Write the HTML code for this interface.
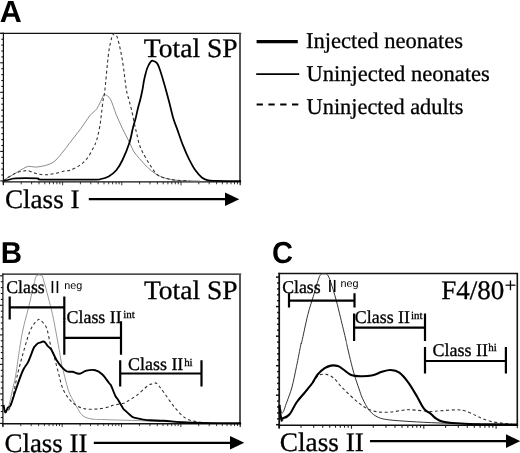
<!DOCTYPE html><html><head><meta charset="utf-8"><title>Figure</title><style>html,body{margin:0;padding:0;background:#fff}svg{display:block}</style></head><body>
<svg width="520" height="453" viewBox="0 0 520 453" text-rendering="geometricPrecision">
<rect width="520" height="453" fill="#fff"/>
<text transform="translate(-0.14,21.8)" font-family="Liberation Sans, sans-serif" font-weight="bold" font-size="30.5">A</text>
<text transform="translate(0.71,263) scale(0.978,1)" font-family="Liberation Sans, sans-serif" font-weight="bold" font-size="30.2">B</text>
<text transform="translate(271.96,263.4) scale(0.96,1)" font-family="Liberation Sans, sans-serif" font-weight="bold" font-size="30.3">C</text>
<line x1="0.2" y1="33.3" x2="3.4" y2="33.3" stroke="#111" stroke-width="1.1"/>
<line x1="1.3" y1="39.2" x2="3.4" y2="39.2" stroke="#111" stroke-width="1.1"/>
<line x1="1.3" y1="45.1" x2="3.4" y2="45.1" stroke="#111" stroke-width="1.1"/>
<line x1="1.3" y1="51.0" x2="3.4" y2="51.0" stroke="#111" stroke-width="1.1"/>
<line x1="1.3" y1="56.9" x2="3.4" y2="56.9" stroke="#111" stroke-width="1.1"/>
<line x1="0.2" y1="62.8" x2="3.4" y2="62.8" stroke="#111" stroke-width="1.1"/>
<line x1="1.3" y1="68.7" x2="3.4" y2="68.7" stroke="#111" stroke-width="1.1"/>
<line x1="1.3" y1="74.6" x2="3.4" y2="74.6" stroke="#111" stroke-width="1.1"/>
<line x1="1.3" y1="80.5" x2="3.4" y2="80.5" stroke="#111" stroke-width="1.1"/>
<line x1="1.3" y1="86.4" x2="3.4" y2="86.4" stroke="#111" stroke-width="1.1"/>
<line x1="0.2" y1="92.3" x2="3.4" y2="92.3" stroke="#111" stroke-width="1.1"/>
<line x1="1.3" y1="98.3" x2="3.4" y2="98.3" stroke="#111" stroke-width="1.1"/>
<line x1="1.3" y1="104.2" x2="3.4" y2="104.2" stroke="#111" stroke-width="1.1"/>
<line x1="1.3" y1="110.1" x2="3.4" y2="110.1" stroke="#111" stroke-width="1.1"/>
<line x1="1.3" y1="116.0" x2="3.4" y2="116.0" stroke="#111" stroke-width="1.1"/>
<line x1="0.2" y1="121.9" x2="3.4" y2="121.9" stroke="#111" stroke-width="1.1"/>
<line x1="1.3" y1="127.8" x2="3.4" y2="127.8" stroke="#111" stroke-width="1.1"/>
<line x1="1.3" y1="133.7" x2="3.4" y2="133.7" stroke="#111" stroke-width="1.1"/>
<line x1="1.3" y1="139.6" x2="3.4" y2="139.6" stroke="#111" stroke-width="1.1"/>
<line x1="1.3" y1="145.5" x2="3.4" y2="145.5" stroke="#111" stroke-width="1.1"/>
<line x1="0.2" y1="151.4" x2="3.4" y2="151.4" stroke="#111" stroke-width="1.1"/>
<line x1="1.3" y1="157.3" x2="3.4" y2="157.3" stroke="#111" stroke-width="1.1"/>
<line x1="1.3" y1="163.2" x2="3.4" y2="163.2" stroke="#111" stroke-width="1.1"/>
<line x1="1.3" y1="169.1" x2="3.4" y2="169.1" stroke="#111" stroke-width="1.1"/>
<line x1="1.3" y1="175.0" x2="3.4" y2="175.0" stroke="#111" stroke-width="1.1"/>
<line x1="0.2" y1="180.9" x2="3.4" y2="180.9" stroke="#111" stroke-width="1.1"/>
<line x1="3.4" y1="181.9" x2="3.4" y2="185.3" stroke="#222" stroke-width="0.9"/>
<line x1="21.2" y1="181.9" x2="21.2" y2="184.3" stroke="#222" stroke-width="0.9"/>
<line x1="31.6" y1="181.9" x2="31.6" y2="184.3" stroke="#222" stroke-width="0.9"/>
<line x1="39.0" y1="181.9" x2="39.0" y2="184.3" stroke="#222" stroke-width="0.9"/>
<line x1="44.8" y1="181.9" x2="44.8" y2="184.3" stroke="#222" stroke-width="0.9"/>
<line x1="49.5" y1="181.9" x2="49.5" y2="184.3" stroke="#222" stroke-width="0.9"/>
<line x1="53.4" y1="181.9" x2="53.4" y2="184.3" stroke="#222" stroke-width="0.9"/>
<line x1="56.9" y1="181.9" x2="56.9" y2="184.3" stroke="#222" stroke-width="0.9"/>
<line x1="59.9" y1="181.9" x2="59.9" y2="184.3" stroke="#222" stroke-width="0.9"/>
<line x1="62.6" y1="181.9" x2="62.6" y2="185.3" stroke="#222" stroke-width="0.9"/>
<line x1="80.4" y1="181.9" x2="80.4" y2="184.3" stroke="#222" stroke-width="0.9"/>
<line x1="90.8" y1="181.9" x2="90.8" y2="184.3" stroke="#222" stroke-width="0.9"/>
<line x1="98.2" y1="181.9" x2="98.2" y2="184.3" stroke="#222" stroke-width="0.9"/>
<line x1="104.0" y1="181.9" x2="104.0" y2="184.3" stroke="#222" stroke-width="0.9"/>
<line x1="108.7" y1="181.9" x2="108.7" y2="184.3" stroke="#222" stroke-width="0.9"/>
<line x1="112.6" y1="181.9" x2="112.6" y2="184.3" stroke="#222" stroke-width="0.9"/>
<line x1="116.1" y1="181.9" x2="116.1" y2="184.3" stroke="#222" stroke-width="0.9"/>
<line x1="119.1" y1="181.9" x2="119.1" y2="184.3" stroke="#222" stroke-width="0.9"/>
<line x1="121.8" y1="181.9" x2="121.8" y2="185.3" stroke="#222" stroke-width="0.9"/>
<line x1="139.6" y1="181.9" x2="139.6" y2="184.3" stroke="#222" stroke-width="0.9"/>
<line x1="150.0" y1="181.9" x2="150.0" y2="184.3" stroke="#222" stroke-width="0.9"/>
<line x1="157.4" y1="181.9" x2="157.4" y2="184.3" stroke="#222" stroke-width="0.9"/>
<line x1="163.2" y1="181.9" x2="163.2" y2="184.3" stroke="#222" stroke-width="0.9"/>
<line x1="167.9" y1="181.9" x2="167.9" y2="184.3" stroke="#222" stroke-width="0.9"/>
<line x1="171.8" y1="181.9" x2="171.8" y2="184.3" stroke="#222" stroke-width="0.9"/>
<line x1="175.3" y1="181.9" x2="175.3" y2="184.3" stroke="#222" stroke-width="0.9"/>
<line x1="178.3" y1="181.9" x2="178.3" y2="184.3" stroke="#222" stroke-width="0.9"/>
<line x1="181.0" y1="181.9" x2="181.0" y2="185.3" stroke="#222" stroke-width="0.9"/>
<line x1="198.8" y1="181.9" x2="198.8" y2="184.3" stroke="#222" stroke-width="0.9"/>
<line x1="209.2" y1="181.9" x2="209.2" y2="184.3" stroke="#222" stroke-width="0.9"/>
<line x1="216.6" y1="181.9" x2="216.6" y2="184.3" stroke="#222" stroke-width="0.9"/>
<line x1="222.4" y1="181.9" x2="222.4" y2="184.3" stroke="#222" stroke-width="0.9"/>
<line x1="227.1" y1="181.9" x2="227.1" y2="184.3" stroke="#222" stroke-width="0.9"/>
<line x1="231.0" y1="181.9" x2="231.0" y2="184.3" stroke="#222" stroke-width="0.9"/>
<line x1="234.5" y1="181.9" x2="234.5" y2="184.3" stroke="#222" stroke-width="0.9"/>
<line x1="237.5" y1="181.9" x2="237.5" y2="184.3" stroke="#222" stroke-width="0.9"/>
<line x1="240.2" y1="181.9" x2="240.2" y2="185.3" stroke="#222" stroke-width="0.9"/>
<line x1="240.2" y1="181.9" x2="240.2" y2="184.9" stroke="#222" stroke-width="0.9"/>
<line x1="0.2" y1="33.3" x2="241.2" y2="33.3" stroke="#111" stroke-width="1.2"/>
<line x1="2.4" y1="181.9" x2="241.2" y2="181.9" stroke="#111" stroke-width="1.3"/>
<line x1="3.4" y1="32.7" x2="3.4" y2="184.9" stroke="#111" stroke-width="1.2"/>
<line x1="240.00" y1="33.3" x2="240.00" y2="182.4" stroke="#555" stroke-width="2"/>
<path d="M3.5,181.0C4.0,180.6 4.2,180.0 6.2,178.7C8.2,177.4 12.6,175.0 15.4,173.3C18.2,171.6 21.0,169.8 23.2,168.6C25.4,167.4 26.6,166.6 28.6,166.3C30.7,166.1 32.8,167.2 35.5,167.1C38.2,167.0 41.7,166.5 44.8,165.6C47.9,164.7 51.2,163.8 54.0,161.7C56.8,159.6 59.2,156.3 61.8,153.2C64.4,150.1 66.3,147.3 69.5,143.2C72.7,139.1 77.4,133.2 80.8,128.6C84.2,124.0 87.3,118.8 90.0,115.5C92.7,112.2 94.8,111.8 97.0,108.5C99.2,105.2 102.1,98.0 103.3,95.6C104.5,93.2 104.0,94.1 104.3,93.9C104.6,93.7 104.3,93.7 105.3,94.6C106.3,95.5 108.7,95.9 110.5,99.3C112.3,102.7 114.3,109.8 116.3,114.7C118.3,119.6 120.3,124.0 122.5,128.6C124.7,133.2 127.6,138.6 129.5,142.5C131.4,146.4 132.3,149.1 134.0,151.8C135.7,154.5 137.2,156.0 139.5,158.6C141.8,161.2 145.0,165.0 147.7,167.5C150.3,170.0 152.8,172.0 155.4,173.7C158.0,175.4 160.6,176.5 163.2,177.5C165.8,178.5 168.1,179.0 170.9,179.5C173.7,180.0 175.2,180.3 180.0,180.6C184.8,180.8 196.7,180.9 200.0,181.0" fill="none" stroke="#8a8a8a" stroke-width="1"/>
<path d="M3.5,181.0C4.0,180.6 4.2,180.0 6.2,178.7C8.2,177.4 12.8,174.5 15.4,173.3C18.0,172.1 19.9,171.7 22.0,171.3C24.1,170.9 25.6,170.4 27.8,170.7C30.1,171.0 32.8,172.6 35.5,173.3C38.2,174.0 40.9,174.7 44.0,174.8C47.1,174.9 50.5,174.3 54.0,173.7C57.5,173.1 62.2,171.6 64.9,171.0C67.6,170.4 67.6,171.1 70.0,170.2C72.4,169.3 76.5,167.5 79.3,165.6C82.1,163.7 84.6,161.6 87.0,158.6C89.4,155.6 92.0,150.3 93.5,147.5C95.0,144.7 95.2,144.1 96.0,142.0C96.8,139.9 97.3,138.0 98.0,135.0C98.7,132.0 99.6,127.7 100.2,124.0C100.8,120.3 101.0,117.1 101.5,113.0C102.0,108.9 102.7,102.8 103.2,99.3C103.7,95.8 103.8,99.5 104.7,91.8C105.6,84.1 107.4,62.2 108.6,53.2C109.8,44.2 110.9,40.9 111.7,37.7C112.5,34.6 113.1,35.0 113.6,34.3C114.1,33.6 114.2,33.5 114.5,33.5C114.8,33.5 114.8,33.3 115.4,34.3C116.0,35.3 116.7,34.9 117.9,39.3C119.1,43.7 121.1,52.4 122.5,60.9C123.9,69.3 125.3,83.5 126.4,90.0C127.5,96.5 128.1,96.5 129.0,100.0C129.9,103.5 130.9,107.0 131.8,111.0C132.7,115.0 133.7,120.2 134.5,124.0C135.3,127.8 136.0,130.5 136.8,134.0C137.6,137.5 138.6,142.2 139.5,145.0C140.4,147.8 141.1,149.1 142.0,151.0C142.9,152.9 143.7,154.2 145.0,156.5C146.3,158.8 148.0,162.0 150.0,165.0C152.0,168.0 154.6,172.3 157.0,174.5C159.4,176.7 161.7,177.1 164.7,178.0C167.7,178.9 170.8,179.5 175.0,180.0C179.2,180.5 187.5,180.8 190.0,181.0" fill="none" stroke="#333" stroke-width="1.1" stroke-dasharray="3 2.6"/>
<path d="M3.5,181.0C4.2,180.8 6.0,180.4 8.0,180.0C10.0,179.6 10.6,178.7 15.4,178.4C20.2,178.1 32.4,178.2 37.0,178.4C41.6,178.6 33.8,179.4 43.2,179.6C52.6,179.7 83.6,179.6 93.2,179.6C102.8,179.5 98.3,179.5 100.9,179.0C103.5,178.5 106.0,177.9 108.6,176.4C111.2,174.9 114.0,172.9 116.3,170.2C118.6,167.5 120.3,164.6 122.5,160.0C124.7,155.4 127.8,147.8 129.5,142.5C131.2,137.2 131.8,132.5 132.8,128.5C133.8,124.5 134.7,121.9 135.6,118.5C136.5,115.1 137.2,111.2 138.0,108.0C138.8,104.8 139.5,102.7 140.3,99.5C141.1,96.3 142.0,92.1 142.6,89.0C143.2,85.9 143.4,83.6 143.9,81.0C144.4,78.4 145.1,75.5 145.7,73.2C146.3,70.9 146.8,68.9 147.7,67.0C148.5,65.1 149.9,62.6 150.8,61.6C151.7,60.6 152.1,60.5 153.1,60.8C154.1,61.0 155.8,61.6 157.0,63.1C158.2,64.6 158.7,66.3 160.0,70.0C161.3,73.7 163.1,80.1 164.7,85.5C166.2,90.9 167.9,97.1 169.3,102.5C170.7,107.9 171.9,113.6 173.2,118.0C174.5,122.4 175.4,124.2 177.1,128.9C178.8,133.6 181.1,140.8 183.2,145.9C185.2,151.1 187.3,155.7 189.4,159.8C191.5,163.9 193.5,167.7 195.6,170.6C197.7,173.5 199.7,175.9 201.8,177.5C203.9,179.1 205.8,179.7 208.0,180.3C210.2,180.9 209.5,180.8 215.0,180.9C220.5,181.0 236.7,181.1 241.0,181.1" fill="none" stroke="#000" stroke-width="1.75" stroke-linejoin="round"/>
<text transform="translate(143.80,57.20) scale(1.0327,1)" font-family="Liberation Serif, serif" font-size="26.7" stroke="#000" stroke-width="0.3">Total SP</text>
<text transform="translate(4.96,208.40) scale(1.0155,1)" font-family="Liberation Serif, serif" font-size="26.7" stroke="#000" stroke-width="0.3">Class I</text>
<line x1="88.8" y1="199.2" x2="229.3" y2="199.2" stroke="#000" stroke-width="2.2"/><polygon points="225.0,192.4 239.3,199.2 225.0,206.0" fill="#000"/>
<line x1="256.6" y1="41.7" x2="297.8" y2="41.7" stroke="#000" stroke-width="3.2"/>
<line x1="256.2" y1="74.2" x2="299.2" y2="74.2" stroke="#000" stroke-width="1.8"/>
<line x1="256.6" y1="104.4" x2="298.5" y2="104.4" stroke="#000" stroke-width="2" stroke-dasharray="6.3 5.5"/>
<text transform="translate(305.89,48.20) scale(1.0025,1)" font-family="Liberation Serif, serif" font-size="22.5" stroke="#000" stroke-width="0.3">Injected neonates</text>
<text transform="translate(306.61,80.90) scale(1.0000,1)" font-family="Liberation Serif, serif" font-size="22.5" stroke="#000" stroke-width="0.3">Uninjected neonates</text>
<text transform="translate(306.61,113.60) scale(0.9925,1)" font-family="Liberation Serif, serif" font-size="22.5" stroke="#000" stroke-width="0.3">Uninjected adults</text>
<line x1="-0.3" y1="275.8" x2="2.9" y2="275.8" stroke="#111" stroke-width="1.1"/>
<line x1="0.8" y1="281.7" x2="2.9" y2="281.7" stroke="#111" stroke-width="1.1"/>
<line x1="0.8" y1="287.6" x2="2.9" y2="287.6" stroke="#111" stroke-width="1.1"/>
<line x1="0.8" y1="293.5" x2="2.9" y2="293.5" stroke="#111" stroke-width="1.1"/>
<line x1="0.8" y1="299.4" x2="2.9" y2="299.4" stroke="#111" stroke-width="1.1"/>
<line x1="-0.3" y1="305.3" x2="2.9" y2="305.3" stroke="#111" stroke-width="1.1"/>
<line x1="0.8" y1="311.2" x2="2.9" y2="311.2" stroke="#111" stroke-width="1.1"/>
<line x1="0.8" y1="317.1" x2="2.9" y2="317.1" stroke="#111" stroke-width="1.1"/>
<line x1="0.8" y1="323.0" x2="2.9" y2="323.0" stroke="#111" stroke-width="1.1"/>
<line x1="0.8" y1="328.9" x2="2.9" y2="328.9" stroke="#111" stroke-width="1.1"/>
<line x1="-0.3" y1="334.9" x2="2.9" y2="334.9" stroke="#111" stroke-width="1.1"/>
<line x1="0.8" y1="340.8" x2="2.9" y2="340.8" stroke="#111" stroke-width="1.1"/>
<line x1="0.8" y1="346.7" x2="2.9" y2="346.7" stroke="#111" stroke-width="1.1"/>
<line x1="0.8" y1="352.6" x2="2.9" y2="352.6" stroke="#111" stroke-width="1.1"/>
<line x1="0.8" y1="358.5" x2="2.9" y2="358.5" stroke="#111" stroke-width="1.1"/>
<line x1="-0.3" y1="364.4" x2="2.9" y2="364.4" stroke="#111" stroke-width="1.1"/>
<line x1="0.8" y1="370.3" x2="2.9" y2="370.3" stroke="#111" stroke-width="1.1"/>
<line x1="0.8" y1="376.2" x2="2.9" y2="376.2" stroke="#111" stroke-width="1.1"/>
<line x1="0.8" y1="382.1" x2="2.9" y2="382.1" stroke="#111" stroke-width="1.1"/>
<line x1="0.8" y1="388.0" x2="2.9" y2="388.0" stroke="#111" stroke-width="1.1"/>
<line x1="-0.3" y1="393.9" x2="2.9" y2="393.9" stroke="#111" stroke-width="1.1"/>
<line x1="0.8" y1="399.8" x2="2.9" y2="399.8" stroke="#111" stroke-width="1.1"/>
<line x1="0.8" y1="405.7" x2="2.9" y2="405.7" stroke="#111" stroke-width="1.1"/>
<line x1="0.8" y1="411.6" x2="2.9" y2="411.6" stroke="#111" stroke-width="1.1"/>
<line x1="0.8" y1="417.5" x2="2.9" y2="417.5" stroke="#111" stroke-width="1.1"/>
<line x1="-0.3" y1="423.4" x2="2.9" y2="423.4" stroke="#111" stroke-width="1.1"/>
<line x1="2.9" y1="423.7" x2="2.9" y2="427.1" stroke="#222" stroke-width="0.9"/>
<line x1="20.8" y1="423.7" x2="20.8" y2="426.1" stroke="#222" stroke-width="0.9"/>
<line x1="31.2" y1="423.7" x2="31.2" y2="426.1" stroke="#222" stroke-width="0.9"/>
<line x1="38.6" y1="423.7" x2="38.6" y2="426.1" stroke="#222" stroke-width="0.9"/>
<line x1="44.4" y1="423.7" x2="44.4" y2="426.1" stroke="#222" stroke-width="0.9"/>
<line x1="49.1" y1="423.7" x2="49.1" y2="426.1" stroke="#222" stroke-width="0.9"/>
<line x1="53.0" y1="423.7" x2="53.0" y2="426.1" stroke="#222" stroke-width="0.9"/>
<line x1="56.5" y1="423.7" x2="56.5" y2="426.1" stroke="#222" stroke-width="0.9"/>
<line x1="59.5" y1="423.7" x2="59.5" y2="426.1" stroke="#222" stroke-width="0.9"/>
<line x1="62.2" y1="423.7" x2="62.2" y2="427.1" stroke="#222" stroke-width="0.9"/>
<line x1="80.1" y1="423.7" x2="80.1" y2="426.1" stroke="#222" stroke-width="0.9"/>
<line x1="90.5" y1="423.7" x2="90.5" y2="426.1" stroke="#222" stroke-width="0.9"/>
<line x1="97.9" y1="423.7" x2="97.9" y2="426.1" stroke="#222" stroke-width="0.9"/>
<line x1="103.7" y1="423.7" x2="103.7" y2="426.1" stroke="#222" stroke-width="0.9"/>
<line x1="108.4" y1="423.7" x2="108.4" y2="426.1" stroke="#222" stroke-width="0.9"/>
<line x1="112.4" y1="423.7" x2="112.4" y2="426.1" stroke="#222" stroke-width="0.9"/>
<line x1="115.8" y1="423.7" x2="115.8" y2="426.1" stroke="#222" stroke-width="0.9"/>
<line x1="118.8" y1="423.7" x2="118.8" y2="426.1" stroke="#222" stroke-width="0.9"/>
<line x1="121.5" y1="423.7" x2="121.5" y2="427.1" stroke="#222" stroke-width="0.9"/>
<line x1="139.4" y1="423.7" x2="139.4" y2="426.1" stroke="#222" stroke-width="0.9"/>
<line x1="149.9" y1="423.7" x2="149.9" y2="426.1" stroke="#222" stroke-width="0.9"/>
<line x1="157.3" y1="423.7" x2="157.3" y2="426.1" stroke="#222" stroke-width="0.9"/>
<line x1="163.0" y1="423.7" x2="163.0" y2="426.1" stroke="#222" stroke-width="0.9"/>
<line x1="167.7" y1="423.7" x2="167.7" y2="426.1" stroke="#222" stroke-width="0.9"/>
<line x1="171.7" y1="423.7" x2="171.7" y2="426.1" stroke="#222" stroke-width="0.9"/>
<line x1="175.1" y1="423.7" x2="175.1" y2="426.1" stroke="#222" stroke-width="0.9"/>
<line x1="178.2" y1="423.7" x2="178.2" y2="426.1" stroke="#222" stroke-width="0.9"/>
<line x1="180.9" y1="423.7" x2="180.9" y2="427.1" stroke="#222" stroke-width="0.9"/>
<line x1="198.7" y1="423.7" x2="198.7" y2="426.1" stroke="#222" stroke-width="0.9"/>
<line x1="209.2" y1="423.7" x2="209.2" y2="426.1" stroke="#222" stroke-width="0.9"/>
<line x1="216.6" y1="423.7" x2="216.6" y2="426.1" stroke="#222" stroke-width="0.9"/>
<line x1="222.3" y1="423.7" x2="222.3" y2="426.1" stroke="#222" stroke-width="0.9"/>
<line x1="227.0" y1="423.7" x2="227.0" y2="426.1" stroke="#222" stroke-width="0.9"/>
<line x1="231.0" y1="423.7" x2="231.0" y2="426.1" stroke="#222" stroke-width="0.9"/>
<line x1="234.5" y1="423.7" x2="234.5" y2="426.1" stroke="#222" stroke-width="0.9"/>
<line x1="237.5" y1="423.7" x2="237.5" y2="426.1" stroke="#222" stroke-width="0.9"/>
<line x1="240.2" y1="423.7" x2="240.2" y2="427.1" stroke="#222" stroke-width="0.9"/>
<line x1="240.2" y1="423.7" x2="240.2" y2="426.7" stroke="#222" stroke-width="0.9"/>
<line x1="2.3" y1="274.2" x2="241.2" y2="274.2" stroke="#111" stroke-width="1.2"/>
<line x1="1.9" y1="423.7" x2="241.2" y2="423.7" stroke="#111" stroke-width="1.4"/>
<line x1="2.9" y1="273.6" x2="2.9" y2="426.7" stroke="#111" stroke-width="1.2"/>
<line x1="240.00" y1="274.2" x2="240.00" y2="424.2" stroke="#555" stroke-width="2"/>
<path d="M3.5,405.0C3.8,406.2 4.4,411.9 5.3,412.0C6.2,412.1 7.7,409.2 8.8,405.9C9.9,402.6 10.8,397.3 12.0,392.0C13.2,386.7 14.7,381.2 15.9,374.1C17.1,367.0 18.3,356.8 19.5,349.4C20.7,342.0 21.4,336.8 22.9,330.0C24.3,323.2 26.1,317.3 28.2,308.8C30.3,300.3 33.8,284.4 35.3,278.8C36.8,273.2 36.9,276.1 37.5,275.5C38.1,274.9 38.6,275.0 39.2,275.0C39.8,275.0 40.3,274.9 41.0,275.5C41.7,276.1 41.5,273.2 43.2,278.8C44.9,284.4 49.1,300.3 51.2,308.8C53.3,317.3 54.3,323.2 55.6,330.0C56.9,336.8 58.1,343.5 59.1,349.4C60.1,355.3 61.1,361.5 61.8,365.3C62.5,369.1 62.3,367.6 63.5,372.0C64.7,376.4 67.0,386.5 68.8,391.5C70.6,396.5 72.6,399.2 74.1,402.0C75.6,404.8 76.1,406.2 77.6,408.5C79.1,410.8 80.6,414.1 83.0,415.9C85.4,417.6 88.3,418.4 91.8,419.0C95.3,419.6 96.8,419.4 104.0,419.6C111.2,419.9 125.7,420.2 135.0,420.5C144.3,420.8 149.2,421.2 160.0,421.5C170.8,421.8 193.3,422.3 200.0,422.5" fill="none" stroke="#999" stroke-width="1"/>
<path d="M3.5,405.0C3.8,406.2 4.1,411.9 5.3,412.0C6.5,412.1 8.5,412.2 10.6,405.9C12.7,399.6 15.3,383.8 17.6,374.1C20.0,364.4 22.6,354.8 24.7,347.6C26.8,340.4 28.3,335.2 30.0,331.0C31.7,326.8 33.7,324.4 35.0,322.5C36.3,320.6 37.4,320.4 38.0,319.8C38.6,319.2 38.5,319.2 38.8,319.2C39.1,319.2 39.2,319.3 39.8,319.8C40.4,320.3 41.5,320.9 42.5,322.0C43.5,323.1 45.0,324.9 45.9,326.5C46.8,328.1 47.0,329.2 47.6,331.5C48.2,333.8 48.9,337.6 49.5,340.5C50.1,343.4 50.9,347.1 51.5,349.0C52.1,350.9 51.8,348.2 52.9,352.0C54.0,355.8 56.7,366.4 58.2,372.0C59.7,377.6 60.6,382.3 61.8,385.9C63.0,389.5 64.1,391.4 65.3,393.5C66.5,395.6 67.6,397.0 68.8,398.5C70.0,400.0 70.9,401.1 72.4,402.4C73.9,403.7 75.8,405.2 77.6,406.2C79.4,407.2 81.2,407.8 83.0,408.3C84.8,408.8 85.6,409.1 88.2,409.2C90.8,409.3 95.3,409.2 98.8,408.8C102.3,408.4 107.0,407.4 109.4,406.8C111.8,406.2 110.7,405.9 113.0,405.3C115.3,404.7 121.2,403.9 123.5,403.3C125.8,402.7 124.8,402.9 127.0,401.5C129.2,400.1 133.5,397.8 136.9,395.2C140.3,392.6 145.2,387.7 147.7,385.8C150.2,383.9 150.8,384.3 152.0,383.9C153.2,383.5 154.2,383.5 154.8,383.3C155.4,383.1 155.5,382.8 155.8,382.9C156.1,382.9 156.3,383.1 156.8,383.6C157.3,384.1 157.8,384.5 159.0,386.0C160.2,387.5 161.3,388.9 163.9,392.5C166.5,396.1 171.0,403.0 174.6,407.3C178.2,411.6 181.8,415.7 185.4,418.1C189.0,420.5 192.1,420.8 196.2,421.6C200.3,422.4 207.7,422.8 210.0,423.0" fill="none" stroke="#333" stroke-width="1.1" stroke-dasharray="3 2.6"/>
<path d="M3.5,405.0C3.8,406.2 4.6,412.0 5.3,412.4C6.0,412.8 7.0,408.8 7.9,407.6C8.8,406.4 9.3,408.3 10.6,405.3C11.9,402.3 13.9,395.3 15.9,389.5C17.9,383.7 20.8,375.1 22.9,370.5C24.9,365.9 26.4,365.5 28.2,361.8C30.0,358.1 32.3,351.1 33.5,348.5C34.7,345.9 34.5,346.8 35.3,345.9C36.0,345.0 37.3,343.7 38.0,343.2C38.7,342.7 38.8,343.0 39.7,342.7C40.6,342.4 42.3,341.6 43.2,341.5C44.1,341.4 44.3,341.7 45.0,342.4C45.7,343.1 46.6,344.7 47.6,345.9C48.6,347.1 49.7,347.0 51.2,349.4C52.7,351.8 54.7,357.1 56.5,360.0C58.3,362.9 60.0,365.2 61.8,367.1C63.5,369.0 65.2,370.7 67.0,371.5C68.8,372.3 70.3,371.4 72.4,371.8C74.5,372.2 77.1,374.0 79.4,373.8C81.8,373.6 83.8,371.2 86.5,370.6C89.2,370.0 92.6,369.6 95.3,370.2C98.0,370.8 100.1,372.3 102.4,374.5C104.8,376.7 107.9,381.6 109.4,383.5C110.9,385.4 110.2,383.8 111.2,385.9C112.2,388.0 114.2,393.6 115.4,396.0C116.6,398.4 116.9,397.8 118.2,400.0C119.5,402.2 122.3,407.2 123.5,409.0C124.7,410.8 124.0,409.4 125.3,410.6C126.6,411.8 130.0,415.0 131.5,416.2C133.0,417.4 132.3,417.1 134.1,417.6C135.9,418.1 139.7,418.9 142.3,419.4C145.0,419.8 146.4,420.1 150.0,420.3C153.6,420.5 158.9,420.5 163.9,420.8C168.9,421.1 174.0,421.7 180.0,422.1C186.0,422.5 189.8,422.8 200.0,423.0C210.2,423.2 234.2,423.2 241.0,423.3" fill="none" stroke="#000" stroke-width="1.9" stroke-linejoin="round"/>
<text transform="translate(143.90,299.10) scale(1.0315,1)" font-family="Liberation Serif, serif" font-size="26.7" stroke="#000" stroke-width="0.3">Total SP</text>
<text transform="translate(6.25,293.30) scale(0.9862,1)" font-family="Liberation Serif, serif" font-size="18" stroke="#000" stroke-width="0.3">Class</text>
<text x="50.1" y="293.4" font-family="Liberation Sans, sans-serif" font-size="17.5">II</text>
<text x="64.2" y="289.2" font-family="Liberation Sans, sans-serif" font-size="10.8">neg</text>
<text transform="translate(66.55,323.10) scale(0.9943,1)" font-family="Liberation Serif, serif" font-size="18" stroke="#000" stroke-width="0.3">Class II<tspan font-size="11" dx="1.6" dy="-4.9">int</tspan></text>
<text transform="translate(128.05,369.60) scale(0.9962,1)" font-family="Liberation Serif, serif" font-size="18" stroke="#000" stroke-width="0.3">Class II<tspan font-size="11" dx="0.8" dy="-3.8">hi</tspan></text>
<path d="M9.7,296.5V319.4M64.3,296.5V319.4M9.7,307.4H64.3" fill="none" stroke="#000" stroke-width="2.2"/>
<path d="M64.3,321.2V354.7M121.0,321.2V354.7M64.3,337.8H121.0" fill="none" stroke="#000" stroke-width="2.2"/>
<line x1="64.3" y1="318" x2="64.3" y2="322" stroke="#000" stroke-width="2"/>
<path d="M120.2,360.3V386.4M201.5,360.3V386.4M120.2,373.5H201.5" fill="none" stroke="#000" stroke-width="2.2"/>
<text transform="translate(4.47,452.20) scale(1.0080,1)" font-family="Liberation Serif, serif" font-size="26.7" stroke="#000" stroke-width="0.3">Class II</text>
<line x1="93.8" y1="442.8" x2="234.3" y2="442.8" stroke="#000" stroke-width="2.2"/><polygon points="230.0,436.0 244.3,442.8 230.0,449.6" fill="#000"/>
<line x1="276.0" y1="277.1" x2="279.2" y2="277.1" stroke="#111" stroke-width="1.5"/>
<line x1="277.1" y1="283.0" x2="279.2" y2="283.0" stroke="#111" stroke-width="1.5"/>
<line x1="277.1" y1="288.9" x2="279.2" y2="288.9" stroke="#111" stroke-width="1.5"/>
<line x1="277.1" y1="294.8" x2="279.2" y2="294.8" stroke="#111" stroke-width="1.5"/>
<line x1="277.1" y1="300.7" x2="279.2" y2="300.7" stroke="#111" stroke-width="1.5"/>
<line x1="276.0" y1="306.6" x2="279.2" y2="306.6" stroke="#111" stroke-width="1.5"/>
<line x1="277.1" y1="312.5" x2="279.2" y2="312.5" stroke="#111" stroke-width="1.5"/>
<line x1="277.1" y1="318.4" x2="279.2" y2="318.4" stroke="#111" stroke-width="1.5"/>
<line x1="277.1" y1="324.3" x2="279.2" y2="324.3" stroke="#111" stroke-width="1.5"/>
<line x1="277.1" y1="330.2" x2="279.2" y2="330.2" stroke="#111" stroke-width="1.5"/>
<line x1="276.0" y1="336.2" x2="279.2" y2="336.2" stroke="#111" stroke-width="1.5"/>
<line x1="277.1" y1="342.1" x2="279.2" y2="342.1" stroke="#111" stroke-width="1.5"/>
<line x1="277.1" y1="348.0" x2="279.2" y2="348.0" stroke="#111" stroke-width="1.5"/>
<line x1="277.1" y1="353.9" x2="279.2" y2="353.9" stroke="#111" stroke-width="1.5"/>
<line x1="277.1" y1="359.8" x2="279.2" y2="359.8" stroke="#111" stroke-width="1.5"/>
<line x1="276.0" y1="365.7" x2="279.2" y2="365.7" stroke="#111" stroke-width="1.5"/>
<line x1="277.1" y1="371.6" x2="279.2" y2="371.6" stroke="#111" stroke-width="1.5"/>
<line x1="277.1" y1="377.5" x2="279.2" y2="377.5" stroke="#111" stroke-width="1.5"/>
<line x1="277.1" y1="383.4" x2="279.2" y2="383.4" stroke="#111" stroke-width="1.5"/>
<line x1="277.1" y1="389.3" x2="279.2" y2="389.3" stroke="#111" stroke-width="1.5"/>
<line x1="276.0" y1="395.2" x2="279.2" y2="395.2" stroke="#111" stroke-width="1.5"/>
<line x1="277.1" y1="401.1" x2="279.2" y2="401.1" stroke="#111" stroke-width="1.5"/>
<line x1="277.1" y1="407.0" x2="279.2" y2="407.0" stroke="#111" stroke-width="1.5"/>
<line x1="277.1" y1="412.9" x2="279.2" y2="412.9" stroke="#111" stroke-width="1.5"/>
<line x1="277.1" y1="418.8" x2="279.2" y2="418.8" stroke="#111" stroke-width="1.5"/>
<line x1="276.0" y1="424.7" x2="279.2" y2="424.7" stroke="#111" stroke-width="1.5"/>
<line x1="279.2" y1="425.3" x2="279.2" y2="428.7" stroke="#222" stroke-width="1.1"/>
<line x1="301.0" y1="425.3" x2="301.0" y2="427.7" stroke="#222" stroke-width="1.1"/>
<line x1="313.7" y1="425.3" x2="313.7" y2="427.7" stroke="#222" stroke-width="1.1"/>
<line x1="322.7" y1="425.3" x2="322.7" y2="427.7" stroke="#222" stroke-width="1.1"/>
<line x1="329.7" y1="425.3" x2="329.7" y2="427.7" stroke="#222" stroke-width="1.1"/>
<line x1="335.5" y1="425.3" x2="335.5" y2="427.7" stroke="#222" stroke-width="1.1"/>
<line x1="340.3" y1="425.3" x2="340.3" y2="427.7" stroke="#222" stroke-width="1.1"/>
<line x1="344.5" y1="425.3" x2="344.5" y2="427.7" stroke="#222" stroke-width="1.1"/>
<line x1="348.2" y1="425.3" x2="348.2" y2="427.7" stroke="#222" stroke-width="1.1"/>
<line x1="351.5" y1="425.3" x2="351.5" y2="428.7" stroke="#222" stroke-width="1.1"/>
<line x1="373.3" y1="425.3" x2="373.3" y2="427.7" stroke="#222" stroke-width="1.1"/>
<line x1="386.0" y1="425.3" x2="386.0" y2="427.7" stroke="#222" stroke-width="1.1"/>
<line x1="395.0" y1="425.3" x2="395.0" y2="427.7" stroke="#222" stroke-width="1.1"/>
<line x1="402.0" y1="425.3" x2="402.0" y2="427.7" stroke="#222" stroke-width="1.1"/>
<line x1="407.8" y1="425.3" x2="407.8" y2="427.7" stroke="#222" stroke-width="1.1"/>
<line x1="412.6" y1="425.3" x2="412.6" y2="427.7" stroke="#222" stroke-width="1.1"/>
<line x1="416.8" y1="425.3" x2="416.8" y2="427.7" stroke="#222" stroke-width="1.1"/>
<line x1="420.5" y1="425.3" x2="420.5" y2="427.7" stroke="#222" stroke-width="1.1"/>
<line x1="423.8" y1="425.3" x2="423.8" y2="428.7" stroke="#222" stroke-width="1.1"/>
<line x1="445.6" y1="425.3" x2="445.6" y2="427.7" stroke="#222" stroke-width="1.1"/>
<line x1="458.3" y1="425.3" x2="458.3" y2="427.7" stroke="#222" stroke-width="1.1"/>
<line x1="467.3" y1="425.3" x2="467.3" y2="427.7" stroke="#222" stroke-width="1.1"/>
<line x1="474.3" y1="425.3" x2="474.3" y2="427.7" stroke="#222" stroke-width="1.1"/>
<line x1="480.1" y1="425.3" x2="480.1" y2="427.7" stroke="#222" stroke-width="1.1"/>
<line x1="484.9" y1="425.3" x2="484.9" y2="427.7" stroke="#222" stroke-width="1.1"/>
<line x1="489.1" y1="425.3" x2="489.1" y2="427.7" stroke="#222" stroke-width="1.1"/>
<line x1="492.8" y1="425.3" x2="492.8" y2="427.7" stroke="#222" stroke-width="1.1"/>
<line x1="496.1" y1="425.3" x2="496.1" y2="428.7" stroke="#222" stroke-width="1.1"/>
<line x1="517.3" y1="425.3" x2="517.3" y2="428.3" stroke="#222" stroke-width="1.1"/>
<line x1="278.3" y1="273.6" x2="518.1" y2="273.6" stroke="#111" stroke-width="1.5"/>
<line x1="278.2" y1="425.3" x2="518.1" y2="425.3" stroke="#111" stroke-width="1.6"/>
<line x1="279.2" y1="272.8" x2="279.2" y2="428.3" stroke="#111" stroke-width="1.75"/>
<line x1="517.30" y1="273.6" x2="517.30" y2="425.8" stroke="#111" stroke-width="1.6"/>
<path d="M279.5,400.0C279.5,400.8 279.2,402.6 279.7,404.8C280.2,407.0 281.2,413.5 282.4,413.0C283.6,412.5 285.2,406.3 286.8,402.0C288.4,397.7 290.4,392.9 292.0,387.0C293.6,381.1 295.0,373.6 296.5,366.5C298.0,359.4 300.0,348.5 300.9,344.4C301.8,340.3 300.6,346.8 301.8,341.8C303.0,336.8 306.0,321.9 307.9,314.4C309.8,306.9 311.4,302.7 313.2,296.8C315.0,290.9 317.2,282.9 318.5,279.1C319.8,275.3 320.3,275.1 321.2,274.2C322.1,273.3 322.8,273.7 323.8,273.8C324.8,273.9 326.2,273.2 327.4,274.7C328.6,276.2 329.4,278.3 330.9,282.6C332.4,286.9 334.6,294.4 336.2,300.3C337.8,306.2 339.0,311.3 340.6,317.9C342.2,324.5 344.9,335.6 345.9,340.0C346.9,344.4 346.1,341.2 346.8,344.4C347.5,347.6 349.0,354.1 350.3,359.4C351.6,364.7 353.2,371.1 354.7,376.0C356.2,380.9 357.8,385.3 359.1,389.0C360.4,392.7 360.7,394.6 362.4,398.2C364.1,401.8 366.8,407.4 369.4,410.6C372.0,413.8 375.0,415.8 378.2,417.3C381.4,418.8 383.5,419.1 388.8,419.8C394.1,420.5 401.5,421.0 410.0,421.5C418.5,422.0 428.3,422.6 440.0,423.0C451.7,423.4 473.3,423.8 480.0,424.0" fill="none" stroke="#333" stroke-width="1"/>
<path d="M279.7,408.0C280.0,410.0 279.9,418.9 281.5,420.0C283.1,421.1 286.9,417.4 289.4,414.5C291.9,411.6 293.9,406.2 296.5,402.5C299.1,398.8 302.7,395.2 305.3,392.0C307.9,388.8 310.3,386.2 312.4,383.5C314.4,380.8 316.2,377.5 317.6,376.0C319.0,374.5 319.5,374.8 321.0,374.5C322.5,374.2 324.4,373.8 326.5,374.4C328.6,375.0 331.1,376.0 333.5,377.9C335.9,379.8 338.0,383.1 340.6,385.9C343.2,388.7 346.4,391.8 349.4,394.7C352.4,397.6 355.8,400.6 358.8,403.0C361.8,405.4 364.4,407.3 367.6,408.8C370.8,410.3 374.4,411.5 378.2,412.0C382.0,412.5 386.5,412.3 390.6,412.0C394.7,411.7 399.8,410.6 403.0,410.2C406.2,409.8 407.1,409.6 410.0,409.7C412.9,409.8 417.1,410.3 420.6,410.6C424.1,410.9 427.9,411.5 431.2,411.5C434.5,411.5 436.4,411.1 440.6,410.8C444.8,410.5 452.4,409.8 456.5,409.8C460.6,409.8 462.1,410.1 465.3,411.0C468.5,411.9 472.9,414.2 475.9,415.5C478.8,416.8 480.1,417.8 483.0,418.9C485.9,420.0 490.0,421.3 493.5,422.0C497.0,422.7 501.0,423.0 504.1,423.3C507.2,423.6 510.7,423.9 512.0,424.0" fill="none" stroke="#333" stroke-width="1.1" stroke-dasharray="3 2.6"/>
<path d="M279.5,405.0C279.5,405.6 279.4,405.8 279.7,408.3C280.0,410.8 281.1,418.3 281.5,420.0C281.9,421.7 281.1,419.4 282.4,418.5C283.7,417.6 287.0,417.2 289.4,414.5C291.8,411.8 293.9,406.3 296.5,402.5C299.1,398.7 302.7,395.1 305.3,391.8C307.9,388.6 310.3,385.9 312.4,383.0C314.4,380.1 315.6,377.0 317.6,374.5C319.7,372.0 322.5,369.7 324.7,368.2C326.9,366.7 328.7,366.0 330.9,365.6C333.1,365.2 335.7,365.4 337.9,366.1C340.1,366.8 341.9,368.5 344.1,370.0C346.3,371.5 348.4,373.9 351.2,374.9C353.9,375.9 357.0,376.1 360.6,376.2C364.2,376.3 369.4,376.0 372.9,375.3C376.4,374.6 378.9,372.7 381.8,371.8C384.8,370.9 387.7,369.9 390.6,370.0C393.5,370.1 396.5,370.5 399.4,372.6C402.3,374.7 405.3,378.4 408.2,382.4C411.1,386.4 414.4,392.1 417.0,396.5C419.6,400.9 421.7,405.9 424.1,408.8C426.5,411.7 429.3,412.6 431.2,414.1C433.1,415.6 433.4,416.8 435.3,418.0C437.2,419.2 438.9,420.6 442.4,421.5C445.9,422.4 451.2,422.9 456.5,423.3C461.8,423.8 463.8,424.0 474.0,424.2C484.2,424.4 510.2,424.5 517.5,424.6" fill="none" stroke="#000" stroke-width="2.1" stroke-linejoin="round"/>
<text transform="translate(441.24,299.20) scale(1.0139,1)" font-family="Liberation Serif, serif" font-size="26.7" stroke="#000" stroke-width="0.3">F4/80<tspan font-size="20" dx="0.3" dy="-7.5">+</tspan></text>
<text transform="translate(282.15,292.80) scale(0.9862,1)" font-family="Liberation Serif, serif" font-size="18" stroke="#000" stroke-width="0.3">Class</text>
<text x="327.5" y="292.2" font-family="Liberation Sans, sans-serif" font-size="17.5">II</text>
<text x="340.4" y="287.2" font-family="Liberation Sans, sans-serif" font-size="10.8">neg</text>
<text transform="translate(354.85,323.40) scale(0.9943,1)" font-family="Liberation Serif, serif" font-size="18" stroke="#000" stroke-width="0.3">Class II<tspan font-size="11" dx="1.0" dy="-4.2">int</tspan></text>
<text transform="translate(432.44,356.20) scale(0.9999,1)" font-family="Liberation Serif, serif" font-size="18" stroke="#000" stroke-width="0.3">Class II<tspan font-size="11" dx="0.4" dy="-5.2">hi</tspan></text>
<path d="M289.0,293.2V307.4M354.5,293.2V307.4M289.0,300.7H354.5" fill="none" stroke="#000" stroke-width="2.2"/>
<path d="M354.1,313.5V340.9M425.0,313.5V340.9M354.1,327.6H425.0" fill="none" stroke="#000" stroke-width="2.2"/>
<path d="M425.0,347.0V373.5M505.9,347.0V373.5M425.0,361.0H505.9" fill="none" stroke="#000" stroke-width="2.2"/>
<text transform="translate(279.85,450.50) scale(1.0217,1)" font-family="Liberation Serif, serif" font-size="26.7" stroke="#000" stroke-width="0.3">Class II</text>
<line x1="370.0" y1="441.1" x2="510.3" y2="441.1" stroke="#000" stroke-width="2.2"/><polygon points="506.0,434.3 520.3,441.1 506.0,447.9" fill="#000"/>
</svg></body></html>
